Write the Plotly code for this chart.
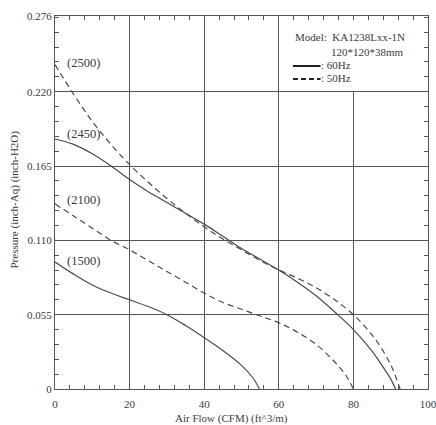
import plotly.graph_objects as go

# 60Hz solid curves
s2450_x = [0, 5, 10, 15, 20, 25, 30, 35, 40, 45, 50, 55, 60, 65, 70, 75, 80, 85, 88, 90, 91.3]
s2450_y = [0.185, 0.181, 0.174, 0.165, 0.155, 0.146, 0.138, 0.130, 0.122, 0.113, 0.104, 0.096, 0.088, 0.079, 0.069, 0.057, 0.044, 0.028, 0.016, 0.0075, 0.0]

s1500_x = [0, 5, 10, 15, 20, 25, 30, 35, 40, 45, 50, 53, 54.8]
s1500_y = [0.094, 0.085, 0.077, 0.071, 0.066, 0.061, 0.055, 0.047, 0.038, 0.0285, 0.0175, 0.0085, 0.0]

# 50Hz dashed curves
d2500_x = [0, 5, 10, 15, 20, 25, 30, 35, 40, 45, 50, 55, 60, 65, 70, 75, 80, 85, 88, 90.5, 92.5]
d2500_y = [0.240, 0.218, 0.198, 0.181, 0.166, 0.153, 0.141, 0.130, 0.120, 0.111, 0.103, 0.095, 0.088, 0.082, 0.075, 0.066, 0.055, 0.040, 0.028, 0.015, 0.0]

d2100_x = [0, 5, 10, 15, 20, 25, 30, 35, 40, 45, 50, 55, 60, 65, 70, 75, 78, 80]
d2100_y = [0.137, 0.128, 0.119, 0.110, 0.103, 0.095, 0.087, 0.079, 0.071, 0.064, 0.059, 0.054, 0.049, 0.042, 0.033, 0.020, 0.010, 0.0]

labels = ["(2500)", "(2450)", "(2100)", "(1500)"]
label_y = [0.241, 0.189, 0.140, 0.095]

y_ticks = [0, 0.055, 0.110, 0.165, 0.220, 0.276]
y_ticktext = ["0", "0.055", "0.110", "0.165", "0.220", "0.276"]
x_ticks = [0, 20, 40, 60, 80, 100]

FONT = "Liberation Serif"
LC = "#4a4a4a"
TC = "#3a3a3a"

fig = go.Figure()
for xs, ys, dash in [(s2450_x, s2450_y, "solid"), (s1500_x, s1500_y, "solid"),
                     (d2500_x, d2500_y, "6px,4px"), (d2100_x, d2100_y, "6px,4px")]:
    fig.add_trace(go.Scatter(x=xs, y=ys, mode="lines", showlegend=False,
                             line=dict(color=LC, width=1.2, dash=dash, shape="spline", smoothing=1.0)))

for t, yv in zip(labels, label_y):
    fig.add_annotation(x=2.6, y=yv, text=t, showarrow=False, xanchor="left", yanchor="middle",
                       font=dict(family=FONT, size=12.5, color=TC))

# legend block (white box hiding the grid behind it)
fig.add_shape(type="rect", xref="x", yref="y", x0=63, x1=100, y0=0.2205, y1=0.276,
              fillcolor="white", line=dict(width=0), layer="between")
legend_font = dict(family=FONT, size=11, color=TC)
fig.add_annotation(xref="paper", yref="paper", x=0.638, y=0.944, text="Model:  KA1238Lxx-1N",
                   showarrow=False, xanchor="left", yanchor="middle", font=legend_font)
fig.add_annotation(xref="paper", yref="paper", x=0.735, y=0.903, text="120*120*38mm",
                   showarrow=False, xanchor="left", yanchor="middle", font=legend_font)
fig.add_annotation(xref="paper", yref="paper", x=0.708, y=0.869, text=": 60Hz",
                   showarrow=False, xanchor="left", yanchor="middle", font=legend_font)
fig.add_annotation(xref="paper", yref="paper", x=0.708, y=0.834, text=": 50Hz",
                   showarrow=False, xanchor="left", yanchor="middle", font=legend_font)
fig.add_shape(type="line", xref="paper", yref="paper", x0=0.638, x1=0.712, y0=0.866, y1=0.866,
              line=dict(color="#222", width=2))
fig.add_shape(type="line", xref="paper", yref="paper", x0=0.638, x1=0.712, y0=0.831, y1=0.831,
              line=dict(color="#222", width=2, dash="5px,3px"))

# axis titles
fig.add_annotation(xref="paper", yref="paper", x=0.472, y=0, yshift=-29, text="Air Flow (CFM) (ft^3/m)",
                   showarrow=False, xanchor="center", yanchor="middle", font=dict(family=FONT, size=11, color=TC))
fig.add_annotation(xref="paper", yref="paper", x=0, xshift=-40, y=0.508, text="Pressure (inch-Aq) (inch-H2O)",
                   textangle=-90, showarrow=False, xanchor="center", yanchor="middle",
                   font=dict(family=FONT, size=11, color=TC))

axis_common = dict(showline=True, linecolor="#555", linewidth=1, mirror=True, automargin=False,
                   ticks="inside", ticklen=4, tickcolor="#555", ticklabeloverflow="allow",
                   showgrid=True, gridcolor="#555", gridwidth=1, zeroline=False,
                   tickfont=dict(family=FONT, size=11, color=TC))

fig.update_layout(
    xaxis=dict(range=[0, 100], tickvals=x_ticks, ticklabelstandoff=5, **axis_common,
               minor=dict(dtick=4, tick0=0, ticks="inside", ticklen=4, tickcolor="#555", showgrid=False)),
    yaxis=dict(range=[0, 0.276], tickvals=y_ticks, ticktext=y_ticktext, **axis_common,
               minor=dict(dtick=0.011, tick0=0, ticks="inside", ticklen=4, tickcolor="#555", showgrid=False)),
    xaxis2=dict(range=[0, 100], overlaying="x", side="top", tickvals=x_ticks, showticklabels=False,
                showgrid=False, zeroline=False, ticks="inside", ticklen=4, tickcolor="#555", automargin=False,
                minor=dict(dtick=4, tick0=0, ticks="inside", ticklen=4, tickcolor="#555", showgrid=False)),
    yaxis2=dict(range=[0, 0.276], overlaying="y", side="right", tickvals=y_ticks, showticklabels=False,
                showgrid=False, zeroline=False, ticks="inside", ticklen=4, tickcolor="#555", automargin=False,
                minor=dict(dtick=0.011, tick0=0, ticks="inside", ticklen=4, tickcolor="#555", showgrid=False)),
    width=436, height=425, margin=dict(l=55, r=8, t=16, b=36, autoexpand=False),
    plot_bgcolor="white", paper_bgcolor="white", showlegend=False,
)
# invisible trace to activate the mirrored tick axes
fig.add_trace(go.Scatter(x=[None], y=[None], xaxis="x2", yaxis="y2", showlegend=False, hoverinfo="skip"))

fig.write_html("out.html", config={"displayModeBar": False},
               post_script="document.body.style.margin='0';document.body.style.overflow='hidden';")
